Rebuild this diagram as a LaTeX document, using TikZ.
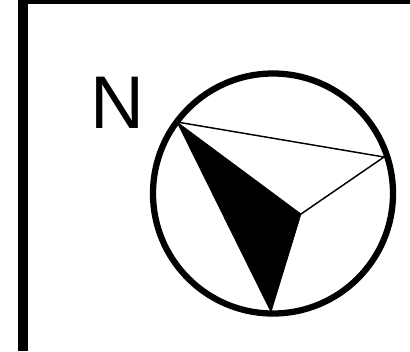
\documentclass[tikz,border=0pt]{standalone}
\usepackage{fontspec}
\setmainfont{Liberation Sans}
\begin{document}
\begin{tikzpicture}[x=0.75pt,y=-0.75pt,
  ring/.style={draw=black,line width=4.7pt,fill=white},
  thin line/.style={draw=black,line width=1.1pt},
  wedge/.style={draw=black,fill=black,line width=0.5pt,line join=miter},
  bar/.style={fill=black,draw=none},
  label/.style={inner sep=0pt,text=black,font=\fontsize{56}{56}\selectfont}]
\useasboundingbox (0,0) rectangle (410,351);
\fill[bar] (18,0) rectangle (28,351);
\fill[bar] (18,0) rectangle (410,4);
\node[ring,circle,minimum size=180pt,inner sep=0pt] (dial) at (273,193.5) {};
\coordinate (a) at (177,122);
\coordinate (b) at (384,157);
\coordinate (c) at (301,214);
\coordinate (d) at (271,312);
\draw[wedge] (a) -- (c) -- (d) -- cycle;
\draw[thin line] (a) -- (b) -- (c);
\node[label] (n) at (117,102.5) {N};
\end{tikzpicture}
\end{document}
